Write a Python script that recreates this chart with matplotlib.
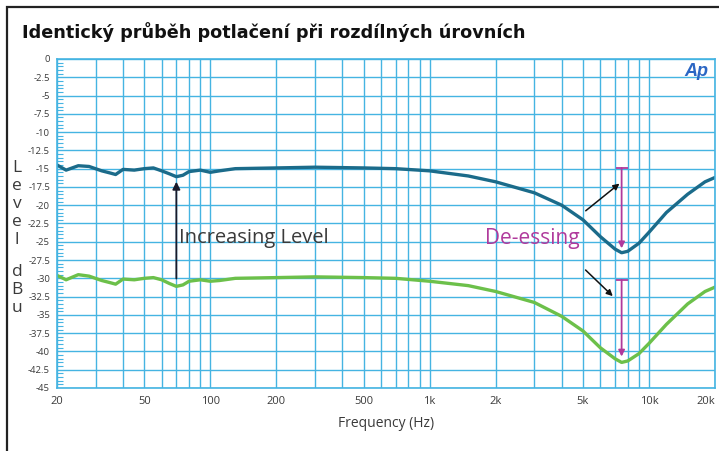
import numpy as np
import matplotlib.pyplot as plt
from matplotlib.patches import Rectangle
from matplotlib.ticker import FixedLocator, NullFormatter

# frequency points (Hz) and levels (dBu)
freq = [20, 22, 25, 28, 32, 35, 37, 40, 45, 50, 55, 60, 65, 70, 75, 80, 90, 100,
        110, 130, 200, 300, 500, 700, 1000, 1500, 2000, 3000, 4000, 5000, 6000,
        7000, 7500, 8000, 9000, 10000, 12000, 15000, 18000, 20000]
level_high = [-14.5, -15.2, -14.6, -14.7, -15.3, -15.6, -15.8, -15.1, -15.2, -15.0,
              -14.9, -15.3, -15.7, -16.1, -15.9, -15.4, -15.2, -15.5, -15.3, -15.0,
              -14.9, -14.8, -14.9, -15.0, -15.3, -16.0, -16.8, -18.3, -20.0, -22.0,
              -24.3, -26.0, -26.5, -26.3, -25.2, -23.7, -21.0, -18.5, -16.8, -16.2]
level_low = [-29.6, -30.2, -29.5, -29.7, -30.3, -30.6, -30.8, -30.1, -30.2, -30.0,
             -29.9, -30.2, -30.7, -31.1, -30.9, -30.4, -30.2, -30.4, -30.3, -30.0,
             -29.9, -29.8, -29.9, -30.0, -30.4, -31.0, -31.8, -33.3, -35.2, -37.2,
             -39.5, -41.0, -41.5, -41.3, -40.3, -38.9, -36.3, -33.5, -31.8, -31.2]

y_ticks = [0, -2.5, -5, -7.5, -10, -12.5, -15, -17.5, -20, -22.5, -25, -27.5,
           -30, -32.5, -35, -37.5, -40, -42.5, -45]
x_ticks = [20, 50, 100, 200, 500, 1000, 2000, 5000, 10000, 20000]
x_labels = ['20', '50', '100', '200', '500', '1k', '2k', '5k', '10k', '20k']

# de-essing markers: (top, bottom) at 7.5 kHz
deess_f = 7500
deess_spans = [(-14.9, -25.9), (-30.2, -40.7)]

grid_c = '#45b4e2'
txt_c = '#3a3a3a'
magenta = '#b03a9c'

fig = plt.figure(figsize=(7.19, 4.51), dpi=100)
ax = fig.add_axes([0.0793, 0.1397, 0.9152, 0.7295])

# figure frame
fig.patches.append(Rectangle((7 / 719, -0.1), 1.2, 1 - 7 / 451 + 0.1,
                             transform=fig.transFigure, fill=False,
                             edgecolor='#222222', lw=1.6))

ax.set_xscale('log')
ax.set_xlim(20, 20000)
ax.set_ylim(-45, 0)

minor_x = [m * 10 ** d for d in range(1, 5) for m in range(2, 10) if 20 <= m * 10 ** d <= 20000]
ax.xaxis.set_major_locator(FixedLocator(x_ticks))
ax.set_xticklabels(x_labels)
ax.xaxis.set_minor_locator(FixedLocator(minor_x))
ax.xaxis.set_minor_formatter(NullFormatter())
ax.set_yticks(y_ticks)
ax.set_yticklabels(['%g' % v for v in y_ticks])
ax.set_yticks(np.arange(-45, 0.01, 0.5), minor=True)

ax.grid(True, which='both', axis='x', color=grid_c, lw=1.0)
ax.grid(True, which='major', axis='y', color=grid_c, lw=1.0)
for s in ax.spines.values():
    s.set_color(grid_c)
    s.set_linewidth(1.2)
ax.tick_params(axis='x', which='both', length=0, labelsize=8, colors=txt_c, pad=6)
ax.tick_params(axis='y', which='major', length=0, labelsize=6.8, colors=txt_c, pad=5)
ax.tick_params(axis='y', which='minor', direction='in', length=4, color=grid_c, width=0.8)
for lab in ax.get_xticklabels():
    lab.set_family('Open Sans')
for lab in ax.get_yticklabels():
    lab.set_family('Open Sans')
last = ax.get_xticklabels()[-1]
last.set_horizontalalignment('right')

ax.plot(freq, level_high, color='#1b6b8a', lw=2.4, solid_capstyle='round')
ax.plot(freq, level_low, color='#6cc04a', lw=2.4, solid_capstyle='round')

# annotations
ax.annotate('', xy=(70, -16.4), xytext=(70, -30.4),
            arrowprops=dict(arrowstyle='-|>', color='#1a1a2a', lw=1.3, mutation_scale=11))
ax.text(72, -24.5, 'Increasing Level', fontsize=14.5, color=txt_c, va='center',
        family='Open Sans')
ax.text(1790, -24.5, 'De-essing', fontsize=15, color=magenta, va='center',
        family='Open Sans')
for top, bot in deess_spans:
    ax.annotate('', xy=(deess_f, bot), xytext=(deess_f, top),
                arrowprops=dict(arrowstyle='-|>', color=magenta, lw=1.3,
                                mutation_scale=9, shrinkA=0, shrinkB=0))
    ax.plot([deess_f], [top], marker='_', ms=9, mew=1.3, color=magenta)
ax.annotate('', xy=(7500, -16.8), xytext=(5030, -21.0),
            arrowprops=dict(arrowstyle='-|>', color='#111111', lw=1.1, mutation_scale=9))
ax.annotate('', xy=(6980, -32.7), xytext=(5030, -28.6),
            arrowprops=dict(arrowstyle='-|>', color='#111111', lw=1.1, mutation_scale=9))

ax.set_xlabel('Frequency (Hz)', fontsize=10, color=txt_c, labelpad=6, family='Open Sans')

# stacked y label
for ch, yp in zip('Level', [168, 186, 204, 222, 240]):
    fig.text(17 / 719, 1 - yp / 451, ch, fontsize=12.5, color=txt_c, ha='center',
             va='center', family='Open Sans')
for ch, yp in zip('dBu', [272, 290, 308]):
    fig.text(17 / 719, 1 - yp / 451, ch, fontsize=12.5, color=txt_c, ha='center',
             va='center', family='Open Sans')

fig.text(22 / 719, 1 - 32 / 451, 'Identický průběh potlačení při rozdílných úrovních',
         fontsize=12.7, fontweight='bold', color='#111111', va='center',
         family='DejaVu Sans')
fig.text(708 / 719, 1 - 72 / 451, 'Ap', fontsize=13, fontweight='bold', style='italic',
         color='#2a66c4', ha='right', va='center', family='Liberation Sans')

fig.savefig('out.png', dpi=100)
